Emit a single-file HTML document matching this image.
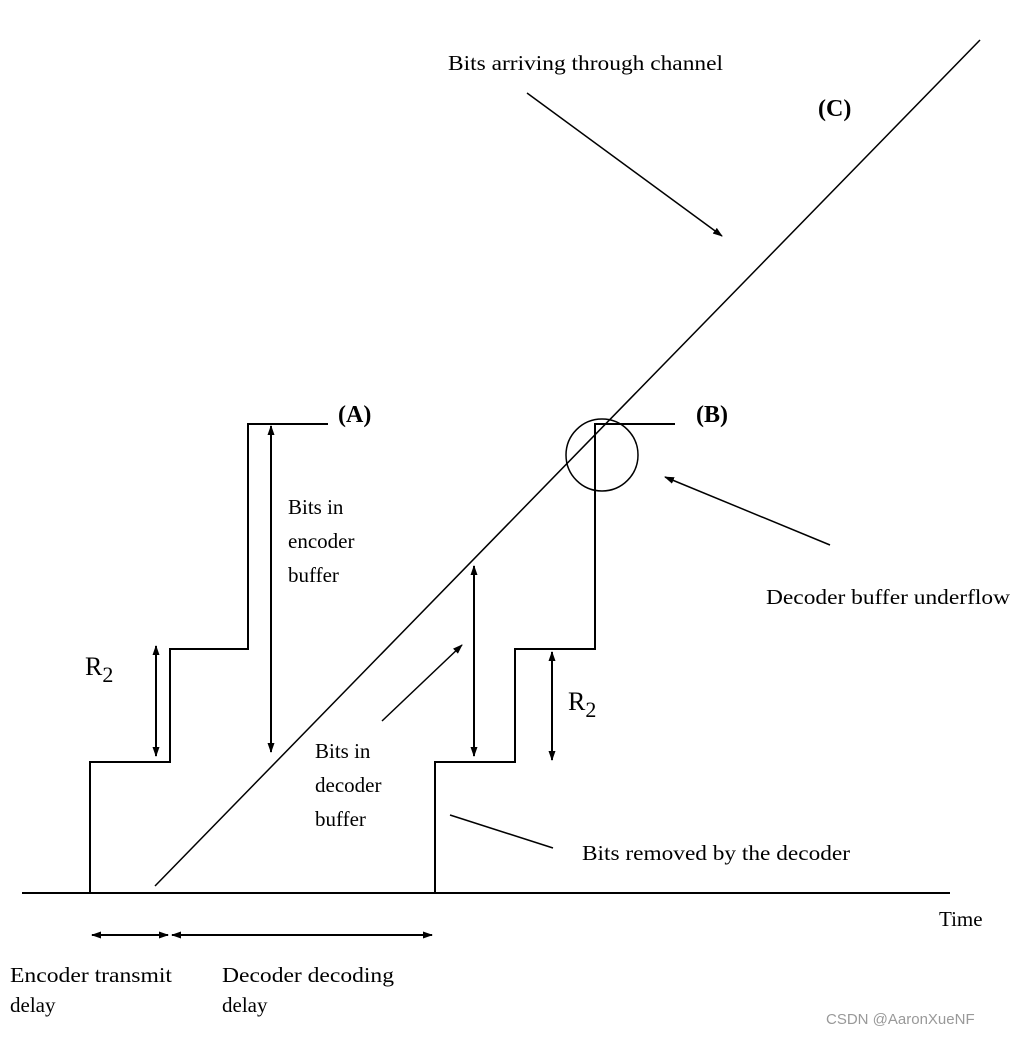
<!DOCTYPE html>
<html><head><meta charset="utf-8"><style>
html,body{margin:0;padding:0;background:#fff;}
svg text{font-family:"Liberation Serif",serif;fill:#000;}
</style></head><body>
<svg width="1018" height="1035" viewBox="0 0 1018 1035" xmlns="http://www.w3.org/2000/svg">
<defs>
<marker id="ah" markerWidth="10" markerHeight="8" refX="9" refY="4" orient="auto-start-reverse" markerUnits="userSpaceOnUse">
<path d="M0,0.5 L10,4 L0,7.5 Z" fill="#000"/></marker>
</defs>
<g stroke="#000" fill="none" stroke-width="2">
<line x1="22" y1="893" x2="950" y2="893"/>
<polyline points="90,893 90,762 170,762 170,649 248,649 248,424 328,424"/>
<polyline points="435,893 435,762 515,762 515,649 595,649 595,424 675,424"/>
</g>
<line x1="155" y1="886" x2="980" y2="40" stroke="#000" stroke-width="1.5"/>
<circle cx="602" cy="455" r="36" stroke="#000" stroke-width="1.5" fill="none"/>
<g stroke="#000" stroke-width="2" fill="none">
<line x1="156" y1="646" x2="156" y2="756" marker-start="url(#ah)" marker-end="url(#ah)"/>
<line x1="271" y1="426" x2="271" y2="752" marker-start="url(#ah)" marker-end="url(#ah)"/>
<line x1="474" y1="566" x2="474" y2="756" marker-start="url(#ah)" marker-end="url(#ah)"/>
<line x1="552" y1="652" x2="552" y2="760" marker-start="url(#ah)" marker-end="url(#ah)"/>
<line x1="92" y1="935" x2="168" y2="935" marker-start="url(#ah)" marker-end="url(#ah)"/>
<line x1="172" y1="935" x2="432" y2="935" marker-start="url(#ah)" marker-end="url(#ah)"/>
</g>
<g stroke="#000" stroke-width="1.5" fill="none">
<line x1="382" y1="721" x2="462" y2="645" marker-end="url(#ah)"/>
<line x1="527" y1="93" x2="722" y2="236" marker-end="url(#ah)"/>
<line x1="830" y1="545" x2="665" y2="477" marker-end="url(#ah)"/>
<line x1="450" y1="815" x2="553" y2="848"/>
</g>
<g font-size="21">
<text x="448" y="70" textLength="275" lengthAdjust="spacingAndGlyphs">Bits arriving through channel</text>
<text x="818" y="116" font-weight="bold" font-size="24">(C)</text>
<text x="338" y="422" font-weight="bold" font-size="24">(A)</text>
<text x="696" y="422" font-weight="bold" font-size="24">(B)</text>
<text x="288" y="514">Bits in</text>
<text x="288" y="548">encoder</text>
<text x="288" y="582">buffer</text>
<text x="766" y="604" textLength="244" lengthAdjust="spacingAndGlyphs">Decoder buffer underflow</text>
<text x="85" y="675" font-size="26">R<tspan font-size="22" dy="7">2</tspan></text>
<text x="568" y="710" font-size="26">R<tspan font-size="22" dy="7">2</tspan></text>
<text x="315" y="758">Bits in</text>
<text x="315" y="792">decoder</text>
<text x="315" y="826">buffer</text>
<text x="582" y="860" textLength="268" lengthAdjust="spacingAndGlyphs">Bits removed by the decoder</text>
<text x="939" y="926">Time</text>
<text x="10" y="982" textLength="162" lengthAdjust="spacingAndGlyphs">Encoder transmit</text>
<text x="10" y="1012">delay</text>
<text x="222" y="982" textLength="172" lengthAdjust="spacingAndGlyphs">Decoder decoding</text>
<text x="222" y="1012">delay</text>
</g>
<text x="826" y="1024" font-size="15" style="font-family:'Liberation Sans',sans-serif;fill:#999">CSDN @AaronXueNF</text>
</svg>
</body></html>
